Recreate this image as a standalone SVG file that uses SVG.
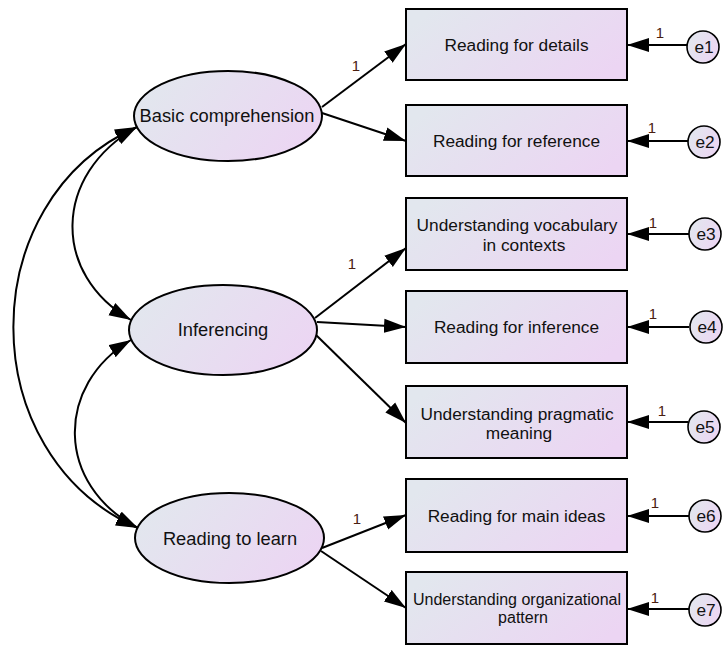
<svg xmlns="http://www.w3.org/2000/svg" width="723" height="645" viewBox="0 0 723 645">
<defs>
<linearGradient id="g" x1="0" y1="0.3" x2="1" y2="0.7">
<stop offset="0" stop-color="#e2e7ee"/>
<stop offset="1" stop-color="#ecd5f3"/>
</linearGradient>
<marker id="ah" markerUnits="userSpaceOnUse" markerWidth="23" markerHeight="15" viewBox="0 0 23 15" refX="22" refY="7.5" orient="auto-start-reverse">
<path d="M0,0.5 L22,7.5 L0,14.5 Z" fill="#000"/>
</marker>
<style>
.box{fill:url(#g);stroke:#000;stroke-width:2}
.lat{fill:url(#g);stroke:#000;stroke-width:2}
.err{fill:url(#g);stroke:#000;stroke-width:1.6}
.t{font-family:"Liberation Sans",Arial,sans-serif;font-size:17.3px;fill:#111;text-anchor:middle}
.t16{font-size:16px}
.t18{font-size:18.3px}
.one{font-family:"Liberation Sans",Arial,sans-serif;font-size:15px;fill:#4a2010;text-anchor:middle}
.c{fill:none;stroke:#000;stroke-width:2}
</style>
</defs>
<rect width="723" height="645" fill="#fff"/>
<g id="connectors">
<path class="c" d="M137,127 C52,175 52,275 131,320" marker-start="url(#ah)" marker-end="url(#ah)"/>
<path class="c" d="M137,127 C-28,200 -28,455 138,528" marker-start="url(#ah)" marker-end="url(#ah)"/>
<path class="c" d="M131,340 C55,385 55,485 138,528" marker-start="url(#ah)" marker-end="url(#ah)"/>
<line class="c" x1="322" y1="107" x2="406" y2="44" marker-end="url(#ah)"/>
<line class="c" x1="322" y1="113" x2="406" y2="141" marker-end="url(#ah)"/>
<line class="c" x1="315" y1="318" x2="406" y2="248" marker-end="url(#ah)"/>
<line class="c" x1="317" y1="322" x2="406" y2="327" marker-end="url(#ah)"/>
<line class="c" x1="315" y1="334" x2="406" y2="423" marker-end="url(#ah)"/>
<line class="c" x1="322" y1="548" x2="406" y2="515" marker-end="url(#ah)"/>
<line class="c" x1="321" y1="551" x2="406" y2="608" marker-end="url(#ah)"/>
<line class="c" x1="688" y1="45" x2="627" y2="45" marker-end="url(#ah)"/>
<line class="c" x1="688" y1="141" x2="627" y2="141" marker-end="url(#ah)"/>
<line class="c" x1="689" y1="234" x2="627" y2="234" marker-end="url(#ah)"/>
<line class="c" x1="689" y1="327" x2="627" y2="327" marker-end="url(#ah)"/>
<line class="c" x1="688" y1="422" x2="627" y2="422" marker-end="url(#ah)"/>
<line class="c" x1="689" y1="516" x2="627" y2="516" marker-end="url(#ah)"/>
<line class="c" x1="689" y1="609" x2="627" y2="609" marker-end="url(#ah)"/>
<text class="one" x="356" y="71">1</text>
<text class="one" x="352" y="269">1</text>
<text class="one" x="357" y="524">1</text>
<text class="one" x="660" y="38">1</text>
<text class="one" x="652" y="133">1</text>
<text class="one" x="653" y="228">1</text>
<text class="one" x="653" y="319">1</text>
<text class="one" x="662" y="416">1</text>
<text class="one" x="655" y="508">1</text>
<text class="one" x="655" y="603">1</text>
</g>
<g id="basic"><ellipse class="lat" cx="228" cy="116" rx="94" ry="45"/><text class="t t18" x="227" y="122">Basic comprehension</text></g>
<g id="inferencing"><ellipse class="lat" cx="223" cy="330" rx="94" ry="45"/><text class="t t18" x="223" y="336">Inferencing</text></g>
<g id="learn"><ellipse class="lat" cx="229.5" cy="538" rx="94.5" ry="45"/><text class="t t18" x="230" y="545">Reading to learn</text></g>
<g id="box1"><rect class="box" x="406" y="9" width="221" height="71"/><text class="t" x="516.5" y="51">Reading for details</text></g>
<g id="box2"><rect class="box" x="406" y="105" width="221" height="71"/><text class="t" x="516.5" y="147">Reading for reference</text></g>
<g id="box3"><rect class="box" x="406" y="198" width="221" height="72"/><text class="t" x="517" y="231">Understanding vocabulary</text><text class="t" x="524" y="251">in contexts</text></g>
<g id="box4"><rect class="box" x="406" y="291" width="221" height="72"/><text class="t" x="516.5" y="333">Reading for inference</text></g>
<g id="box5"><rect class="box" x="406" y="386" width="221" height="72"/><text class="t" x="517" y="420">Understanding pragmatic</text><text class="t" x="519" y="439">meaning</text></g>
<g id="box6"><rect class="box" x="406" y="479" width="221" height="73"/><text class="t" x="516.5" y="522">Reading for main ideas</text></g>
<g id="box7"><rect class="box" x="406" y="572" width="221" height="72"/><text class="t t16" x="517" y="605">Understanding organizational</text><text class="t t16" x="523" y="623">pattern</text></g>
<g id="e1"><circle class="err" cx="703" cy="47" r="16"/><text class="t" x="704" y="53">e1</text></g>
<g id="e2"><circle class="err" cx="704" cy="142" r="16"/><text class="t" x="705" y="148">e2</text></g>
<g id="e3"><circle class="err" cx="705" cy="234" r="16"/><text class="t" x="706" y="240">e3</text></g>
<g id="e4"><circle class="err" cx="706" cy="327" r="16"/><text class="t" x="707" y="333">e4</text></g>
<g id="e5"><circle class="err" cx="704" cy="427" r="16"/><text class="t" x="705" y="433">e5</text></g>
<g id="e6"><circle class="err" cx="705" cy="516" r="16"/><text class="t" x="706" y="522">e6</text></g>
<g id="e7"><circle class="err" cx="705" cy="610" r="16"/><text class="t" x="706" y="616">e7</text></g>
</svg>
